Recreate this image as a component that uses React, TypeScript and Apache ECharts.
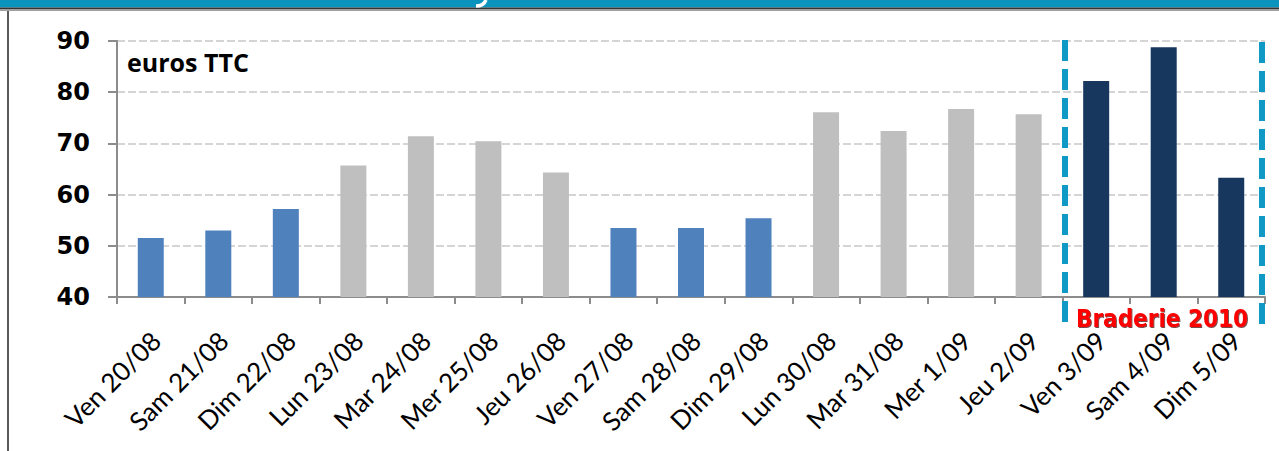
import React, { useEffect, useRef } from "react";
import * as echarts from "echarts";

const categories = [
  "Ven 20/08", "Sam 21/08", "Dim 22/08", "Lun 23/08", "Mar 24/08", "Mer 25/08",
  "Jeu 26/08", "Ven 27/08", "Sam 28/08", "Dim 29/08", "Lun 30/08", "Mar 31/08",
  "Mer 1/09", "Jeu 2/09", "Ven 3/09", "Sam 4/09", "Dim 5/09",
];
const values = [51.5, 53.0, 57.2, 65.7, 71.4, 70.4, 64.3, 53.5, 53.5, 55.4, 76.1, 72.4, 76.7, 75.7, 82.2, 88.8, 63.3];
// day kind: "we" = week-end, "wd" = weekday, "br" = braderie
const kinds = ["we", "we", "we", "wd", "wd", "wd", "wd", "we", "we", "we", "wd", "wd", "wd", "wd", "br", "br", "br"];
const kindColors: Record<string, string> = { we: "#4F81BD", wd: "#BFBFBF", br: "#17375E" };
const yTicks = [40, 50, 60, 70, 80, 90];
const unitLabel = "euros TTC";
const eventLabel = "Braderie 2010";

export default function App() {
  const ref = useRef<HTMLDivElement>(null);
  useEffect(() => {
    if (!ref.current) return;
    const chart = echarts.init(ref.current, null, { renderer: "svg" });
    chart.setOption({
      animation: false,
      backgroundColor: "#ffffff",
      grid: { left: 117, right: 14, top: 41, bottom: 154, containLabel: false },
      xAxis: {
        type: "category",
        data: categories,
        axisLine: { lineStyle: { color: "#8c8c8c", width: 2 } },
        axisTick: { show: true, length: 7, lineStyle: { color: "#8c8c8c", width: 2 } },
        axisLabel: {
          rotate: 45,
          margin: 34,
          interval: 0,
          verticalAlign: "top",
          lineHeight: 14,
          color: "#000",
          fontFamily: "Lato",
          fontSize: 26,
        },
      },
      yAxis: {
        type: "value",
        min: yTicks[0],
        max: yTicks[yTicks.length - 1],
        interval: 10,
        axisLine: { show: true, lineStyle: { color: "#8c8c8c", width: 2 } },
        axisTick: { show: true, length: 9, lineStyle: { color: "#8c8c8c", width: 2 } },
        axisLabel: {
          margin: 27,
          color: "#000",
          fontFamily: "DejaVu Sans",
          fontWeight: "bold",
          fontSize: 24,
        },
        splitLine: { show: true, lineStyle: { color: "#c8c8c8", width: 1.5, type: [8, 3] } },
      },
      series: [
        {
          type: "bar",
          barWidth: "38.5%",
          data: values.map((v, i) => ({ value: v, itemStyle: { color: kindColors[kinds[i]] } })),
        },
      ],
      graphic: [
        { type: "rect", shape: { x: 0, y: 0, width: 1279, height: 7.5 }, style: { fill: "#0A93BD" }, z: 10 },
        { type: "rect", shape: { x: 0, y: 7.5, width: 1279, height: 1.5 }, style: { fill: "#333333" }, z: 10 },
        { type: "rect", shape: { x: 0, y: 9, width: 1279, height: 2 }, style: { fill: "#a0a0a0" }, z: 10 },
        {
          type: "bezierCurve",
          shape: { x1: 486, y1: 0, x2: 476, y2: 6, cpx1: 484, cpy1: 5, cpx2: 480, cpy2: 6 },
          style: { stroke: "#ffffff", lineWidth: 3.5, fill: null }, z: 11,
        },
        { type: "line", shape: { x1: 8, y1: 11, x2: 8, y2: 451 }, style: { stroke: "#222", lineWidth: 1.5 }, z: 10 },
        {
          type: "text", x: 127, y: 49,
          style: { text: unitLabel, fill: "#000", font: "bold 25px 'Open Sans'" }, z: 10,
        },
        {
          type: "line", shape: { x1: 1065, y1: 40, x2: 1065, y2: 323 },
          style: { stroke: "#1199C6", lineWidth: 6, lineDash: [21, 8] }, z: 10,
        },
        {
          type: "line", shape: { x1: 1262, y1: 42, x2: 1262, y2: 324 },
          style: { stroke: "#1199C6", lineWidth: 6, lineDash: [21, 8] }, z: 10,
        },
        {
          type: "text", x: 1162, y: 319,
          style: {
            text: eventLabel, fill: "#FF0000", align: "center", verticalAlign: "middle",
            font: "bold 24px 'DejaVu Sans Condensed'",
            textShadowColor: "rgba(60,0,0,0.7)", textShadowBlur: 1, textShadowOffsetX: 1, textShadowOffsetY: 1,
          }, z: 11,
        },
      ],
    });
    return () => chart.dispose();
  }, []);
  return <div ref={ref} style={{ position: "absolute", left: 0, top: 0, width: 1279, height: 451 }} />;
}
